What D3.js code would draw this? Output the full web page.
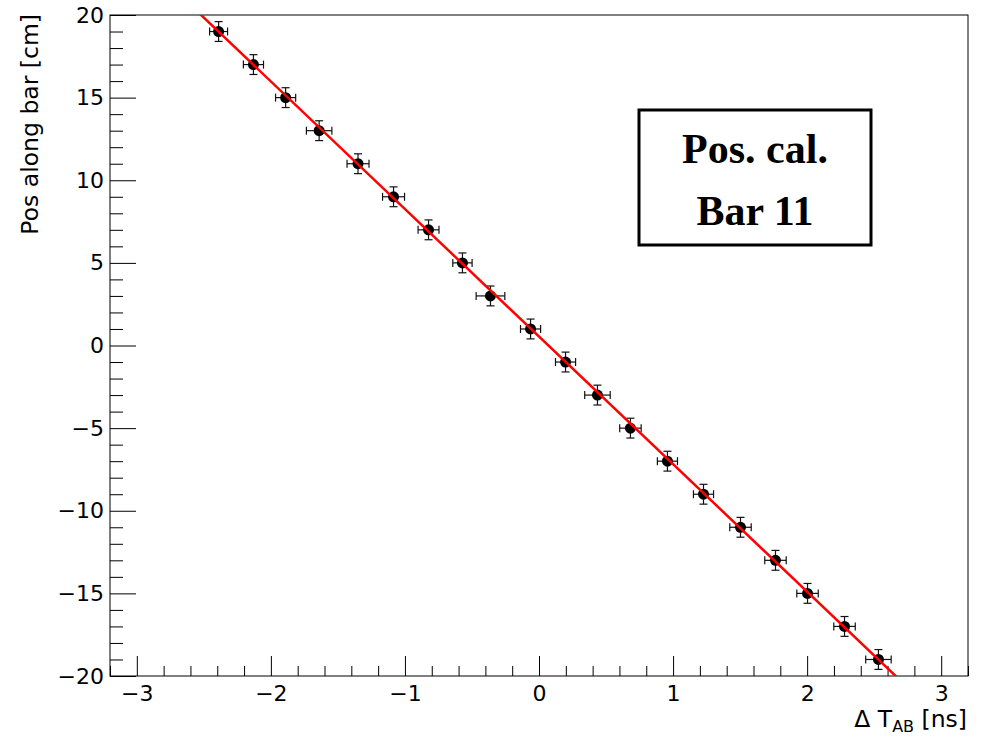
<!DOCTYPE html>
<html lang="en">
<head>
<meta charset="UTF-8">
<title>Pos. cal. Bar 11</title>
<script src="https://d3js.org/d3.v7.min.js"></script>
<style>
	body { margin: 0; background: #fff; }
</style>
</head>
<body>
<div id="chart"></div>
<script>
	// measured points: delta T (ns) vs position along bar (cm)
	var dt = [-2.39, -2.13, -1.89, -1.64, -1.35, -1.085, -0.824, -0.571, -0.362, -0.063,
		0.198, 0.436, 0.682, 0.958, 1.227, 1.503, 1.764, 2.003, 2.279, 2.532];
	var pos = [19, 17, 15, 13, 11, 9, 7, 5, 3, 1, -1, -3, -5, -7, -9, -11, -13, -15, -17, -19];
	var dtErr = [0.067, 0.075, 0.075, 0.095, 0.082, 0.082, 0.078, 0.072, 0.107, 0.075,
		0.075, 0.095, 0.080, 0.075, 0.075, 0.080, 0.080, 0.080, 0.080, 0.095];
	var posErr = [0.6, 0.6, 0.6, 0.6, 0.6, 0.6, 0.6, 0.6, 0.6, 0.6,
		0.6, 0.6, 0.6, 0.6, 0.6, 0.6, 0.6, 0.6, 0.6, 0.6];
	// linear fit pos = p0 + p1 * dt
	var fitP0 = 0.54;
	var fitP1 = -7.72;
	var xTicks = [-3, -2, -1, 0, 1, 2, 3];
	var yTicks = [-20, -15, -10, -5, 0, 5, 10, 15, 20];
	var boxLines = ["Pos. cal.", "Bar 11"];

	var W = 981, H = 739;
	var pLeft = 110, pRight = 968, pTop = 15, pBottom = 676;
	var sans = "DejaVu Sans, Liberation Sans, Arial, sans-serif";

	var svg = d3.select("#chart").append("svg")
		.attr("width", W)
		.attr("height", H);

	var x = d3.scaleLinear().domain([-3.2, 3.2]).range([pLeft, pRight]);
	var y = d3.scaleLinear().domain([-20, 20]).range([pBottom, pTop]);

	var data = dt.map(function (d, i) {
		return { x: d, y: pos[i], ex: dtErr[i], ey: posErr[i] };
	});

	// frame
	svg.append("rect")
		.attr("x", pLeft).attr("y", pTop)
		.attr("width", pRight - pLeft).attr("height", pBottom - pTop)
		.attr("fill", "none").attr("stroke", "#000").attr("stroke-width", 1);

	// x axis: major and minor ticks pointing inward
	var xMinor = d3.range(-32, 33, 2).map(function (v) { return v / 10; })
		.filter(function (v) { return Math.abs(v - Math.round(v)) > 1e-6; });

	svg.append("g")
		.attr("transform", "translate(0," + pBottom + ")")
		.call(d3.axisBottom(x).tickValues(xMinor).tickSize(-10).tickFormat(""))
		.call(function (g) { g.select(".domain").remove(); });

	var gx = svg.append("g")
		.attr("transform", "translate(0," + pBottom + ")")
		.call(d3.axisBottom(x).tickValues(xTicks).tickSize(-20).tickPadding(8)
			.tickFormat(d3.format("d")));
	gx.select(".domain").remove();
	gx.selectAll("text").attr("font-size", 22).attr("fill", "#000")
		.attr("font-family", sans)
		.attr("dy", "0.75em");

	// y axis
	var yMinor = d3.range(-20, 21, 1).filter(function (v) { return v % 5 !== 0; });
	svg.append("g")
		.attr("transform", "translate(" + pLeft + ",0)")
		.call(d3.axisLeft(y).tickValues(yMinor).tickSize(-13).tickFormat(""))
		.call(function (g) { g.select(".domain").remove(); });

	var gy = svg.append("g")
		.attr("transform", "translate(" + pLeft + ",0)")
		.call(d3.axisLeft(y).tickValues(yTicks).tickSize(-26).tickPadding(6)
			.tickFormat(d3.format("d")));
	gy.select(".domain").remove();
	gy.selectAll("text").attr("font-size", 22).attr("fill", "#000")
		.attr("font-family", sans);

	svg.selectAll(".tick line").attr("stroke", "#000");

	// axis titles
	var xt = svg.append("text")
		.attr("x", pRight - 1).attr("y", 727)
		.attr("text-anchor", "end")
		.attr("font-family", sans)
		.attr("font-size", 23.5);
	xt.append("tspan").text("\u0394 T");
	xt.append("tspan").attr("font-size", 16).attr("dy", 5).text("AB");
	xt.append("tspan").attr("dy", -5).text(" [ns]");

	svg.append("text")
		.attr("transform", "translate(38," + (pTop - 1) + ") rotate(-90)")
		.attr("text-anchor", "end")
		.attr("font-family", sans)
		.attr("font-size", 23.5)
		.text("Pos along bar [cm]");

	// plot area clip
	svg.append("clipPath").attr("id", "clip")
		.append("rect")
		.attr("x", pLeft).attr("y", pTop)
		.attr("width", pRight - pLeft).attr("height", pBottom - pTop);

	var plot = svg.append("g").attr("clip-path", "url(#clip)");

	// error bars
	var cap = 4;
	var eb = plot.selectAll(".eb").data(data).enter().append("g")
		.attr("stroke", "#111").attr("stroke-width", 1.2);
	eb.append("line")
		.attr("x1", function (d) { return x(d.x - d.ex); })
		.attr("x2", function (d) { return x(d.x + d.ex); })
		.attr("y1", function (d) { return y(d.y); })
		.attr("y2", function (d) { return y(d.y); });
	eb.append("line")
		.attr("x1", function (d) { return x(d.x); })
		.attr("x2", function (d) { return x(d.x); })
		.attr("y1", function (d) { return y(d.y - d.ey); })
		.attr("y2", function (d) { return y(d.y + d.ey); });
	[-1, 1].forEach(function (s) {
		eb.append("line")
			.attr("x1", function (d) { return x(d.x + s * d.ex); })
			.attr("x2", function (d) { return x(d.x + s * d.ex); })
			.attr("y1", function (d) { return y(d.y) - cap; })
			.attr("y2", function (d) { return y(d.y) + cap; });
		eb.append("line")
			.attr("x1", function (d) { return x(d.x) - cap; })
			.attr("x2", function (d) { return x(d.x) + cap; })
			.attr("y1", function (d) { return y(d.y + s * d.ey); })
			.attr("y2", function (d) { return y(d.y + s * d.ey); });
	});

	// markers
	plot.selectAll("circle").data(data).enter().append("circle")
		.attr("cx", function (d) { return x(d.x); })
		.attr("cy", function (d) { return y(d.y); })
		.attr("r", 5.5)
		.attr("fill", "#000");

	// fit line
	var line = d3.line()
		.x(function (d) { return x(d); })
		.y(function (d) { return y(fitP0 + fitP1 * d); });
	plot.append("path")
		.datum(x.domain())
		.attr("d", line)
		.attr("fill", "none")
		.attr("stroke", "#ff0000")
		.attr("stroke-width", 2.5);

	// label box
	svg.append("rect")
		.attr("x", 639).attr("y", 110)
		.attr("width", 232).attr("height", 135)
		.attr("fill", "#fff").attr("stroke", "#000").attr("stroke-width", 3);
	svg.selectAll(".boxtxt").data(boxLines).enter().append("text")
		.attr("x", 755)
		.attr("y", function (d, i) { return 163 + i * 62; })
		.attr("text-anchor", "middle")
		.attr("font-family", "Liberation Serif, Times New Roman, serif")
		.attr("font-weight", "bold")
		.attr("font-size", 42)
		.attr("fill", "#000")
		.text(function (d) { return d; });
</script>
</body>
</html>
